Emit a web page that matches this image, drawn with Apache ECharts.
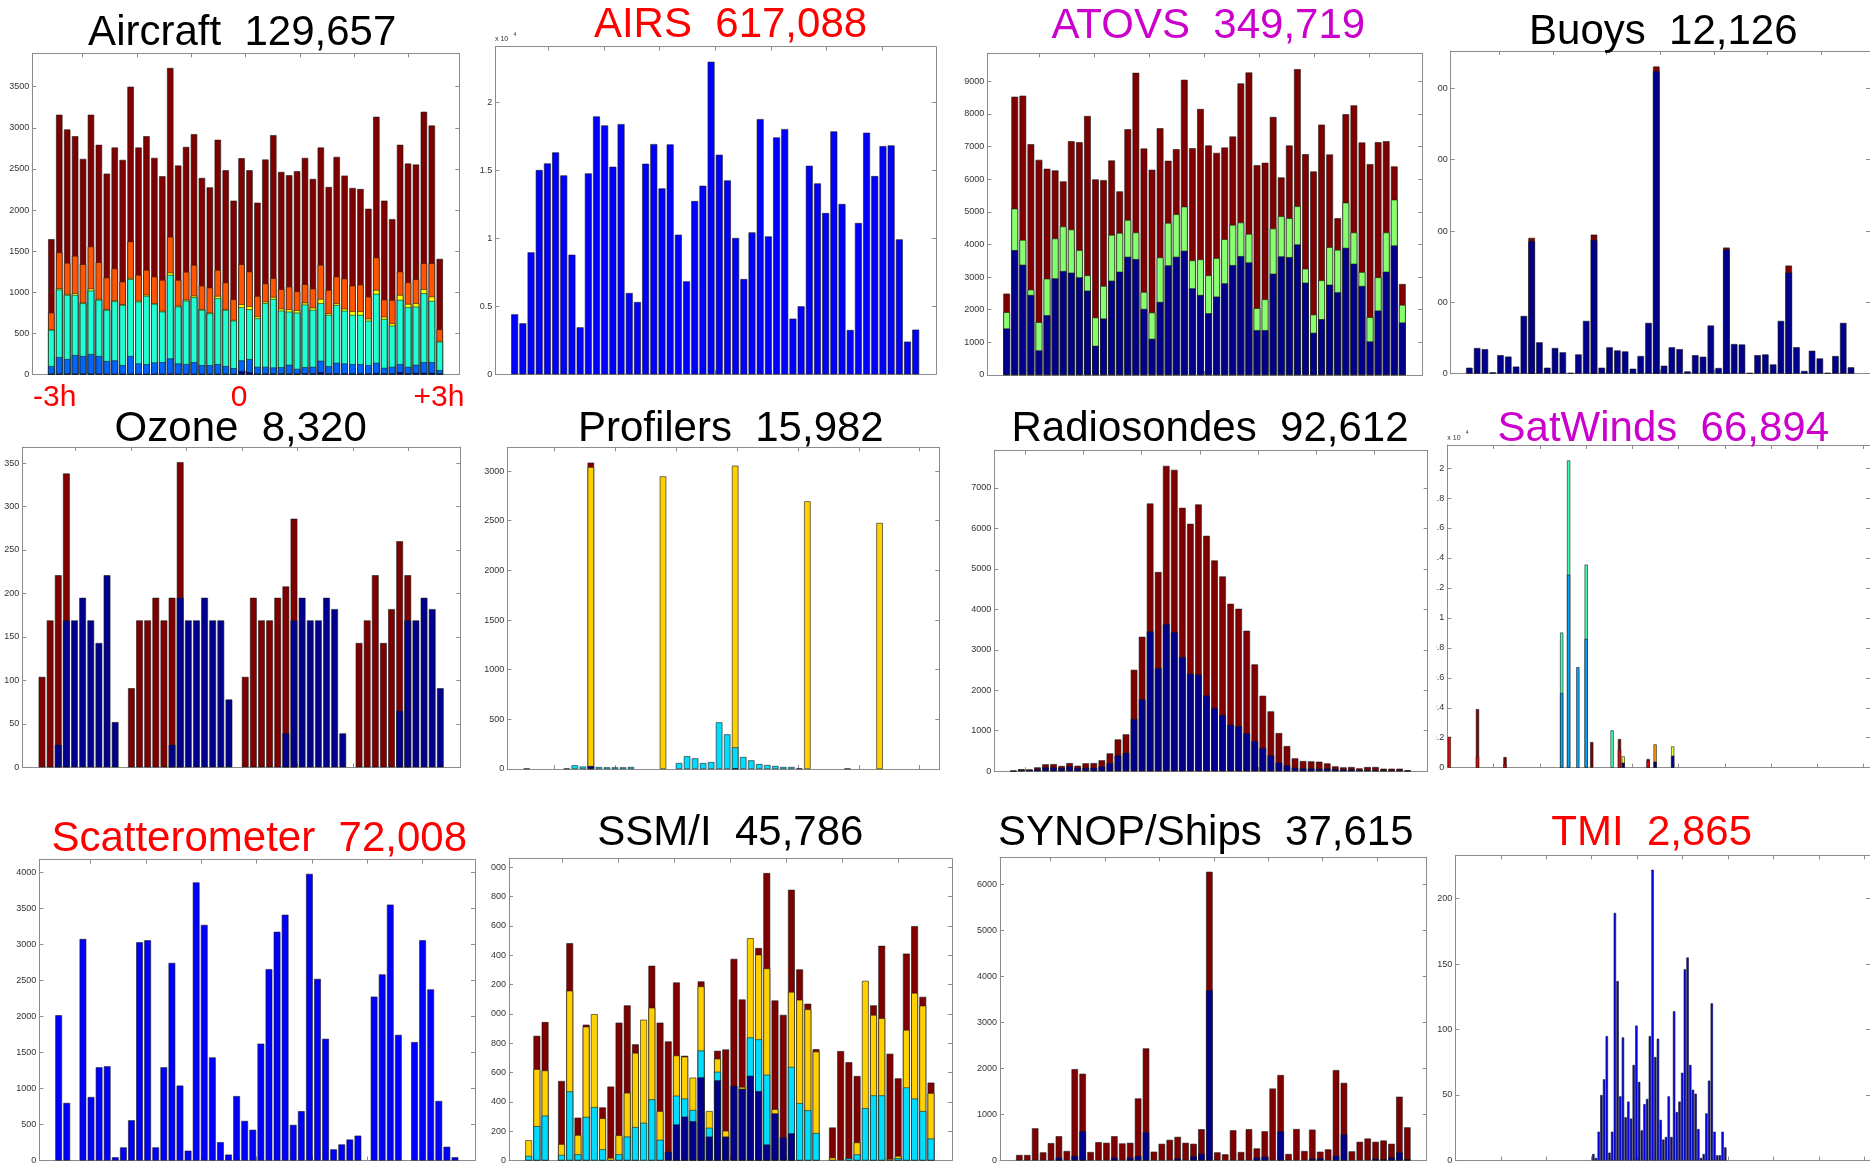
<!DOCTYPE html>
<html>
<head>
<meta charset="utf-8">
<title>Observation counts per time bin</title>
<script src="https://cdn.jsdelivr.net/npm/echarts@6/dist/echarts.min.js"></script>
<style>
html,body{margin:0;padding:0;background:#ffffff;}
#chart{width:1870px;height:1165px;}
</style>
</head>
<body>
<div id="chart"></div>
<script>
// ---------------- DATA ----------------
// Aircraft: cumulative levels (top of each colour band)
const acTotal  = [1646,3159,2980,2898,2622,3159,2793,2443,2760,2610,3500,2760,2898,2634,2411,3728,2541,2768,2923,2390,2276,2854,2484,2114,2630,2484,2089,2614,2911,2463,2423,2472,2634,2378,2760,2280,2646,2419,2268,2256,2016,3134,2114,1890,2793,2565,2553,3195,3028,1406];
const acOrange = [752,1484,1358,1443,1341,1557,1366,1179,1289,1130,1618,1211,1272,1191,1150,1675,1150,1248,1333,1081,1057,1272,1118,915,1341,1252,955,1106,1171,1037,1069,1012,1098,1045,1333,1028,1191,1167,1081,1093,947,1423,911,906,1252,1122,1159,1354,1354,549];
const acYellow = [551,1049,979,988,878,1045,919,795,902,855,1174,898,970,868,774,1240,837,910,959,795,754,955,795,664,854,830,707,886,943,801,793,781,874,813,919,744,866,801,768,768,679,1028,703,622,967,858,866,1037,947,408];
const acAqua   = [541,1033,967,967,866,1020,907,785,890,845,1159,886,955,858,764,1211,825,898,939,785,744,927,785,654,817,793,683,866,919,776,764,752,850,785,866,724,845,776,724,724,654,980,675,593,907,817,825,988,894,398];
const acBlue   = [102,211,187,236,224,248,224,163,171,114,224,134,126,146,150,195,134,126,150,114,114,126,102,77,171,187,93,93,85,89,118,69,89,93,167,102,142,134,126,126,114,142,81,93,126,93,118,150,150,53];
const acNavy   = [5,8,8,8,8,8,8,5,5,5,8,5,5,5,5,8,5,5,5,5,5,5,5,5,41,28,10,10,10,10,10,10,12,12,28,12,12,12,12,12,12,20,12,12,28,12,20,20,20,10];

const airsValues = [4412,3750,8971,15025,15515,16324,14633,8799,3456,14780,18971,18309,15270,18407,5980,5319,15490,16936,13677,16912,10270,6838,12745,13873,22990,16152,14265,10025,7010,10441,18775,10147,17427,18039,4093,5000,15343,14044,11863,17868,12525,3260,11128,17770,14583,16789,16839,9927,2402,3284];

// ATOVS: cumulative levels
const atTotal    = [2494,8529,8560,7074,6595,6321,6270,5934,7165,7135,7939,5995,5974,6575,5628,7532,9262,6941,6290,7562,6565,6921,9048,6951,8153,7033,6809,6972,7308,8936,9272,6432,6504,7908,6056,7033,9374,6768,6239,7674,6758,4804,7990,8265,7125,6463,7135,7165,6392,2789];
const atGreenTop = [1924,5099,4142,2616,1618,2952,4183,4550,4458,3827,3053,1761,2728,4295,4356,4753,4366,2544,1913,3603,4661,4926,5160,3511,3542,3053,3583,4163,4600,4672,4326,2046,2321,4488,4865,4804,5170,3257,1852,2901,3919,3837,5282,4366,3155,1771,2992,4366,5374,2148];
const atNavy     = [1425,3827,3379,2453,753,1832,2962,3186,3135,2992,2585,896,1730,2891,3165,3623,3552,2025,1109,2239,3359,3623,3807,2656,2453,1893,2402,2809,3369,3644,3450,1374,1374,3104,3634,3613,4000,2829,1293,1710,2768,2534,3898,3410,2728,1028,1975,3165,3969,1608];

const buNavy = [42,180,172,10,130,120,50,405,929,220,42,180,150,7,135,370,938,42,185,163,156,35,124,356,2121,56,185,172,16,130,119,338,40,870,208,205,7,130,135,65,370,709,186,19,161,107,7,124,356,45];
const buRed  = [0,0,0,0,0,0,0,0,23,0,0,0,0,0,0,0,37,0,0,0,0,0,0,0,32,0,0,0,0,0,0,0,0,14,0,0,0,0,0,0,0,49,0,0,0,0,0,0,0,0];

const ozNavy = [0,0,26,169,169,195,169,143,221,52,0,0,0,0,0,0,26,195,169,169,195,169,169,78,0,0,0,0,0,0,39,169,195,169,169,195,182,39,0,0,0,0,0,0,65,169,169,195,182,91];
const ozRed  = [104,169,195,169,0,0,0,0,0,0,0,91,169,169,195,169,169,156,0,0,0,0,0,0,0,104,195,169,169,195,169,117,0,0,0,0,0,0,0,143,169,221,143,182,195,52,0,0,0,0];

const prNavy   = [5,0,0,0,0,5,0,0,30,0,0,0,0,0,0,0,0,0,0,0,0,0,0,0,0,0,5,0,0,0,0,0,0,0,7,0,0,0,0,0,5,0,0,0,0,0,0,0,0,0];
const prCyan   = [0,0,0,0,0,0,37,25,0,20,17,17,17,20,0,0,0,0,0,60,128,107,60,70,470,349,213,121,87,50,40,30,20,20,0,0,0,0,0,0,0,0,0,0,0,0,0,0,0,0];
const prYellow = [0,0,0,0,0,0,0,0,3010,0,0,0,0,0,0,0,0,2946,0,0,0,0,0,0,0,0,2836,0,0,0,0,0,0,0,0,2695,0,0,0,0,0,0,0,0,2477,0,0,0,0,0];
const prRed    = [0,0,0,0,0,0,0,0,45,0,0,0,0,0,0,0,0,0,0,0,0,0,0,0,0,0,0,0,0,0,0,0,0,0,0,0,0,0,0,0,0,0,0,0,0,0,0,0,0,0];

const rsTotal = [10,50,45,95,170,175,130,200,135,195,200,270,440,785,910,2505,3320,6612,4920,7543,7444,6506,6111,6589,5815,5206,4811,4136,4012,3469,2638,1864,1477,942,621,317,251,243,235,193,119,95,103,70,103,103,62,62,62,20];
const rsNavy  = [5,35,30,55,95,95,80,120,80,85,85,120,200,390,455,1290,1775,3455,2545,3634,3436,2819,2409,2391,1872,1560,1387,1148,1115,934,745,572,391,218,144,86,70,70,62,70,54,45,45,29,29,20,20,20,20,10];

// SatWinds: bar positions (in axis-tick units) and band values
const swPos     = [-0.96,-0.35,0.245,1.47,1.62,1.82,2.0,2.12,2.56,2.72,2.80,3.34,3.49,3.87];
const swNavy    = [0,0,0,0,0,0,0,0,0,0,333,0,400,800];
const swRed     = [2060,756,222,0,0,0,0,0,0,1200,0,444,0,0];
const swBlue    = [0,0,0,4978,12889,6711,8600,0,0,0,0,0,0,0];
const swAqua    = [0,0,0,4044,7622,0,4956,0,2489,0,0,0,0,0];
const swYellow  = [0,0,0,0,0,0,0,0,0,0,423,0,0,622];
const swOrange  = [0,0,0,0,0,0,0,0,0,0,0,0,1156,0];
const swDarkRed = [0,3155,489,0,0,0,0,1711,0,711,0,134,0,0];

const scatValues = [2018,800,0,3077,882,1295,1309,45,182,559,3032,3059,182,1295,2745,1041,136,3864,3273,1432,255,82,895,550,427,1623,2659,3177,3414,495,686,3982,2523,1691,155,223,291,345,0,2277,2586,3555,1745,0,1645,3059,2377,827,191,45];

const ssNavy   = [0,0,0,0,0,0,0,0,0,0,0,0,0,0,0,0,0,60,246,299,268,567,163,547,163,509,489,578,473,109,321,158,185,0,0,0,0,0,0,0,0,0,0,0,0,0,0,0,0,0];
const ssCyan   = [31,234,306,0,38,471,42,297,364,76,0,42,163,228,257,417,141,0,196,123,76,183,60,58,0,0,0,261,353,476,0,0,453,391,342,187,0,0,0,16,42,357,444,444,0,16,498,422,337,150];
const ssYellow = [107,389,308,0,74,687,132,616,634,212,18,130,299,506,703,625,196,0,274,286,221,437,114,89,40,0,13,677,578,725,29,0,512,705,689,556,0,20,0,0,81,868,549,527,11,15,393,721,719,310];
const ssRed    = [0,227,330,0,430,324,118,13,0,74,486,768,596,58,0,286,603,752,498,6,0,34,0,54,554,866,596,0,45,650,741,835,696,207,38,16,0,205,746,654,453,0,65,493,717,529,520,455,60,71];

const syTotal = [120,120,700,177,378,528,206,1987,1887,185,399,385,528,371,385,1350,2438,192,363,449,514,385,363,680,6279,177,134,657,185,680,263,635,1565,1859,142,685,206,671,192,242,1966,1688,199,406,478,406,435,363,1387,721];
const syNavy  = [0,0,0,0,0,63,0,99,635,0,0,0,63,0,63,99,614,0,0,0,49,0,92,149,3704,0,0,0,0,0,63,84,0,635,0,0,0,41,49,0,106,571,0,0,0,41,27,70,177,27];

const tmiValues = [5,2,22,50,62,95,6,22,189,137,49,94,33,45,32,73,103,60,23,43,47,95,222,79,93,31,16,18,49,18,114,37,45,67,146,155,73,54,51,24,2,5,36,61,120,22,4,4,22,10];

// tick labels
const aircraftYTicks    = [0,500,1000,1500,2000,2500,3000,3500];
const airsYTicks        = [0,5000,10000,15000,20000];
const atovsYTicks       = [0,1000,2000,3000,4000,5000,6000,7000,8000,9000];
const buoysYTicks       = [0,500,1000,1500,2000];
const ozoneYTicks       = [0,50,100,150,200,250,300,350];
const profilersYTicks   = [0,500,1000,1500,2000,2500,3000];
const radiosondesYTicks = [0,1000,2000,3000,4000,5000,6000,7000];
const satwindsYTicks    = [0,2000,4000,6000,8000,10000,12000,14000,16000,18000,20000];
const scatYTicks        = [0,500,1000,1500,2000,2500,3000,3500,4000];
const ssmiYTicks        = [0,200,400,600,800,1000,1200,1400,1600,1800,2000];
const synopYTicks       = [0,1000,2000,3000,4000,5000,6000];
const tmiYTicks         = [0,50,100,150,200];
const xTicks7 = [0,1,2,3,4,5,6];
const xTicks9 = [0,1,2,3,4,5,6,7,8];
const timeLabels = ['-3h','0','+3h'];

// ---------------- STYLE ----------------
const DARKRED='#800000', NAVY='#00008c', BLUE='#0000ff', AC_BLUE='#0064ff', AQUA='#1effd4',
      YELLOW='#ffff00', ORANGE='#ff5500', LGREEN='#88ff6e', CYAN='#00ddff', GOLD='#ffd000',
      RED='#ff0000', AZURE='#00a8ff', MINT='#40ffb0', LYELLOW='#e2ff3a', ORANGE2='#ff9a00';
const BLACK='#000000', TRED='#ff0000', MAGENTA='#cc00cc';
const AX='#8c8c8c';
const FONT="'Liberation Sans', Arial, Helvetica, sans-serif";

const sub=(a,b)=>a.map((v,i)=>Math.max(0,v-b[i]));
const e4=v=>String(Number((v/1e4).toFixed(2)));

const panels = [
 {title:'Aircraft  129,657', tc:BLACK, tx:242.2, ty:33, L:32.3,R:459.3,T:53.3,B:374.5, c0:51.33,d:7.927, t0:82.7,s:54.33, ymax:3906, yt:aircraftYTicks, xt:xTicks7, bw:6.4,
  bands:[[acNavy,NAVY],[sub(acBlue,acNavy),AC_BLUE],[sub(acAqua,acBlue),AQUA],[sub(acYellow,acAqua),YELLOW],[sub(acOrange,acYellow),ORANGE],[sub(acTotal,acOrange),DARKRED]]},
 {title:'AIRS  617,088', tc:TRED, tx:730.5, ty:25.5, L:495.3,R:936,T:46.7,B:374.3, c0:514.67,d:8.184, t0:548.3,s:55.67, ymax:24100, yt:airsYTicks, xt:xTicks7, bw:6.9, fmt:e4,
  bands:[[airsValues,BLUE]]},
 {title:'ATOVS  349,719', tc:MAGENTA, tx:1208.3, ty:26.3, L:987.3,R:1422.3,T:53.3,B:375, c0:1006.67,d:8.075, t0:1039.3,s:55, ymax:9860, yt:atovsYTicks, xt:xTicks7, bw:6.7,
  bands:[[atNavy,NAVY],[sub(atGreenTop,atNavy),LGREEN],[sub(atTotal,atGreenTop),DARKRED]]},
 {title:'Buoys  12,126', tc:BLACK, tx:1663.3, ty:32.5, L:1450.7,R:1877.3,T:51,B:373.7, c0:1469.67,d:7.925, t0:1500.3,s:54.56, ymax:2262, yt:buoysYTicks, xt:xTicks7, bw:6.5,
  bands:[[buNavy,NAVY],[buRed,DARKRED]]},
 {title:'Ozone  8,320', tc:BLACK, tx:240.7, ty:429, L:22.3,R:460.3,T:447,B:767.3, c0:42,d:8.129, t0:75.67,s:55.44, ymax:368.5, yt:ozoneYTicks, xt:xTicks7, bw:6.7,
  bands:[[ozNavy,NAVY],[ozRed,DARKRED]]},
 {title:'Profilers  15,982', tc:BLACK, tx:730.8, ty:429, L:507.3,R:939.3,T:447.3,B:769, c0:526.67,d:8.02, t0:554.3,s:60.89, ymax:3239, yt:profilersYTicks, xt:xTicks7, bw:6.5,
  bands:[[prNavy,NAVY],[prCyan,CYAN],[prYellow,GOLD],[prRed,DARKRED]]},
 {title:'Radiosondes  92,612', tc:BLACK, tx:1210, ty:429, L:994.3,R:1427.7,T:450.7,B:771.2, c0:1013.33,d:8.048, t0:1025.3,s:58.22, ymax:7917, yt:radiosondesYTicks, xt:xTicks7, bw:6.6,
  bands:[[rsNavy,NAVY],[sub(rsTotal,rsNavy),DARKRED]]},
 {title:'SatWinds  66,894', tc:MAGENTA, tx:1663.3, ty:429, L:1447.3,R:1882,T:445,B:767.7, c0:1495,d:47.57, t0:1495,s:47.57, ymax:21540, yt:satwindsYTicks, xt:xTicks9, bw:3.2, fmt:e4, xs:swPos,
  bands:[[swNavy,NAVY],[swRed,RED],[swBlue,AZURE],[swAqua,MINT],[swYellow,LYELLOW],[swOrange,ORANGE2],[swDarkRed,DARKRED]]},
 {title:'Scatterometer  72,008', tc:TRED, tx:259.2, ty:839.5, L:39.3,R:475,T:859.7,B:1166.7, c0:58.67,d:8.088, t0:90.67,s:55.33, ymax:4179, yt:scatYTicks, xt:xTicks7, bw:6.7,
  bands:[[scatValues,BLUE]]},
 {title:'SSM/I  45,786', tc:BLACK, tx:730.3, ty:833.5, L:509,R:952,T:858.7,B:1165.7, c0:528.67,d:8.211, t0:562.3,s:56.06, ymax:2058, yt:ssmiYTicks, xt:xTicks7, bw:6.8,
  bands:[[ssNavy,NAVY],[ssCyan,CYAN],[ssYellow,GOLD],[ssRed,DARKRED]]},
 {title:'SYNOP/Ships  37,615', tc:BLACK, tx:1205.8, ty:833.5, L:1000,R:1426.7,T:857.3,B:1164.3, c0:1019.33,d:7.918, t0:1050.67,s:54.39, ymax:6594, yt:synopYTicks, xt:xTicks7, bw:6.5,
  bands:[[syNavy,NAVY],[sub(syTotal,syNavy),DARKRED]]},
 {title:'TMI  2,865', tc:TRED, tx:1651.7, ty:833.8, L:1455.3,R:1887,T:855.3,B:1166, c0:1599,d:2.803, t0:1502.67,s:47.33, ymax:233, yt:tmiYTicks, xt:xTicks9, bw:2.4,
  bands:[[tmiValues,BLUE]]}
];

// ---------------- BUILD ----------------
const grid=[], xAxis=[], yAxis=[], series=[], graphic=[];
panels.forEach((p,k)=>{
  grid.push({left:p.L, top:p.T, width:p.R-p.L, height:p.B-p.T, containLabel:false});
  const xb = xAxis.length;
  xAxis.push({gridIndex:k, type:'value', show:false, min:(p.L-p.c0)/p.d, max:(p.R-p.c0)/p.d, splitLine:{show:false}});
  const tmin=(p.L-p.t0)/p.s, tmax=(p.R-p.t0)/p.s;
  ['bottom','top'].forEach(pos=>{
    xAxis.push({gridIndex:k, type:'value', position:pos, min:tmin, max:tmax,
      axisLine:{show:true, onZero:false, lineStyle:{color:AX, width:1}},
      axisTick:{show:true, inside:true, length:4, customValues:p.xt, lineStyle:{color:AX, width:1}},
      axisLabel:{show:false}, splitLine:{show:false}});
  });
  const yl = yAxis.length;
  ['left','right'].forEach(pos=>{
    yAxis.push({gridIndex:k, type:'value', position:pos, min:0, max:p.ymax,
      axisLine:{show:true, onZero:false, lineStyle:{color:AX, width:1}},
      axisTick:{show:true, inside:true, length:4, customValues:p.yt, lineStyle:{color:AX, width:1}},
      axisLabel: pos==='left' ? {show:true, customValues:p.yt, fontSize:9, color:'#333', margin:3, fontFamily:FONT,
                                 formatter: p.fmt ? p.fmt : (v=>String(v))} : {show:false},
      splitLine:{show:false}});
  });
  // stacked look: each band is drawn at its cumulative height, upper bands behind lower ones
  const cum=[];
  p.bands.forEach((b,j)=>{ cum.push(b[0].map((v,i)=>v+(j?cum[j-1][i]:0))); });
  for(let j=p.bands.length-1;j>=0;j--){
    const vals=cum[j], own=p.bands[j][0];
    series.push({type:'bar', name:p.title+' '+j, xAxisIndex:xb, yAxisIndex:yl,
      barWidth:p.bw, barGap:'-100%', silent:true,
      itemStyle:{color:p.bands[j][1], borderColor:'#1a1a1a', borderWidth:0.6},
      data: vals.map((v,i)=>[p.xs ? p.xs[i] : i, (own[i]===0 || v===0) ? '-' : v])});
  }
  graphic.push({type:'text', x:p.tx, y:p.ty, z:50,
    style:{text:p.title, fill:p.tc, font:'42px '+FONT, align:'center', verticalAlign:'middle'}});
});

// time labels under the Aircraft panel
const tlx = [54.7, 239.2, 439];
timeLabels.forEach((t,i)=>graphic.push({type:'text', x:tlx[i], y:398, z:50,
  style:{text:t, fill:TRED, font:'30px '+FONT, align:'center', verticalAlign:'middle'}}));

// exponent markers
[[495,39.5,513.5,34.5],[1447.3,437.7,1465.8,433]].forEach(a=>{
  graphic.push({type:'text', x:a[0], y:a[1], z:50, style:{text:'x 10', fill:'#333', font:'7px '+FONT, align:'left', verticalAlign:'middle'}});
  graphic.push({type:'text', x:a[2], y:a[3], z:50, style:{text:'4', fill:'#333', font:'5px '+FONT, align:'left', verticalAlign:'middle'}});
});

// neighbouring panels overlap the left part of some tick labels
[[1423.5,70,14,320],[1429,450,7.5,330],[476.5,860,14.3,310]].forEach(r=>{
  graphic.push({type:'rect', z:100, shape:{x:r[0], y:r[1], width:r[2], height:r[3]}, style:{fill:'#ffffff'}});
});

const chart = echarts.init(document.getElementById('chart'), null, {renderer:'canvas', width:1870, height:1165});
chart.setOption({animation:false, backgroundColor:'#ffffff', grid, xAxis, yAxis, series, graphic});
</script>
</body>
</html>
